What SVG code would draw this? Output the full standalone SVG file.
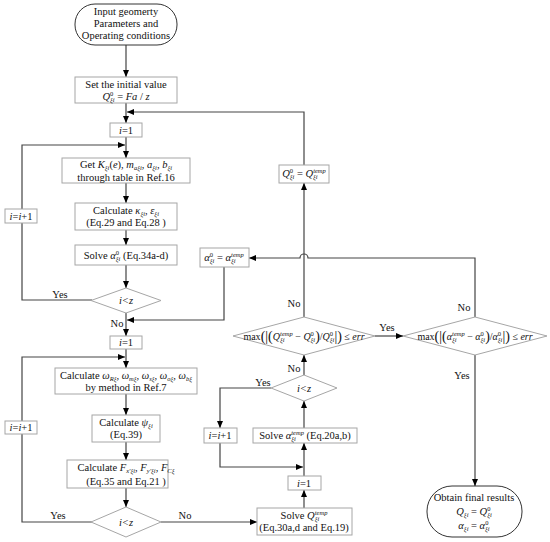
<svg xmlns="http://www.w3.org/2000/svg" width="550" height="542" viewBox="0 0 550 542">
<style>
text{font-family:"Liberation Serif","Times New Roman",serif;font-size:10.5px;fill:#111;text-anchor:middle}
.i{font-style:italic}
.s{font-size:6.5px;font-style:italic}
.su{font-size:6.5px}
.big{font-size:14px}
.box{fill:#fff;stroke:#a6a6a6;stroke-width:1}
.dia{fill:#fff;stroke:#a6a6a6;stroke-width:1}
.term{fill:#fff;stroke:#333;stroke-width:1}
.c{fill:none;stroke:#444;stroke-width:1.2}
.f10{font-size:10px}
</style>
<defs>
<marker id="ah" markerWidth="7" markerHeight="6" refX="7" refY="3" orient="auto" markerUnits="userSpaceOnUse">
<path d="M0,0 L7,3 L0,6 z" fill="#000"/>
</marker>
</defs>

<g id="connectors">
<path class="c" d="M126,45 V77" marker-end="url(#ah)"/>
<path class="c" d="M126,103 V123" marker-end="url(#ah)"/>
<path class="c" d="M304,165 V112 H127" marker-end="url(#ah)"/>
<path class="c" d="M126,137 V158" marker-end="url(#ah)"/>
<path class="c" d="M92,300 H22 V145 H125" marker-end="url(#ah)"/>
<path class="c" d="M126,183 V203" marker-end="url(#ah)"/>
<path class="c" d="M126,230 V245" marker-end="url(#ah)"/>
<path class="c" d="M126,265 V288" marker-end="url(#ah)"/>
<path class="c" d="M126,313 V336" marker-end="url(#ah)"/>
<path class="c" d="M224,267 V320 H127" marker-end="url(#ah)"/>
<path class="c" d="M126,349 V368" marker-end="url(#ah)"/>
<path class="c" d="M92,522 H22 V357 H125" marker-end="url(#ah)"/>
<path class="c" d="M126,394 V415" marker-end="url(#ah)"/>
<path class="c" d="M126,442 V460" marker-end="url(#ah)"/>
<path class="c" d="M126,488 V507" marker-end="url(#ah)"/>
<path class="c" d="M161,522 H257" marker-end="url(#ah)"/>
<path class="c" d="M304,508 V490" marker-end="url(#ah)"/>
<path class="c" d="M304,476 V443" marker-end="url(#ah)"/>
<path class="c" d="M220,443 V467 H303" marker-end="url(#ah)"/>
<path class="c" d="M271,388 H220 V428" marker-end="url(#ah)"/>
<path class="c" d="M304,428 V401" marker-end="url(#ah)"/>
<path class="c" d="M304,375 V355" marker-end="url(#ah)"/>
<path class="c" d="M304,317 V183" marker-end="url(#ah)"/>
<path class="c" d="M375,336 H403" marker-end="url(#ah)"/>
<path class="c" d="M475,317 V258 H308 A4,4 0 0 0 300,258 H249" marker-end="url(#ah)"/>
<path class="c" d="M475,355 V486" marker-end="url(#ah)"/>
<text x="60" y="298">Yes</text>
<text x="117" y="327">No</text>
<text x="58" y="519">Yes</text>
<text x="185" y="519">No</text>
<text x="263" y="386">Yes</text>
<text x="294" y="372">No</text>
<text x="294" y="307">No</text>
<text x="387" y="331">Yes</text>
<text x="464" y="311">No</text>
<text x="462" y="379">Yes</text>
</g>

<g id="start">
<rect class="term" x="75" y="4" width="102" height="41" rx="20" ry="20"/>
<text x="126" y="15">Input geomerty</text>
<text x="126" y="27">Parameters and</text>
<text x="126" y="39">Operating conditions</text>
</g>

<g id="init">
<rect class="box" x="75" y="77" width="102" height="26"/>
<text x="126" y="88">Set the initial value</text>
<text x="126" y="100"><tspan class="i">Q</tspan><tspan class="su" dy="-4">0</tspan><tspan class="s" dx="-3.3" dy="6">ξi</tspan><tspan dy="-2"> = </tspan><tspan class="i">Fa</tspan> / <tspan class="i">z</tspan></text>
</g>

<g id="i1a">
<rect class="box" x="110" y="123" width="32" height="14"/>
<text x="126" y="134"><tspan class="i">i</tspan>=1</text>
</g>

<g id="getK">
<rect class="box" x="62" y="158" width="128" height="25"/>
<text x="126" y="168">Get <tspan class="i">K</tspan><tspan class="s" dy="2">ξi</tspan><tspan dy="-2">(</tspan><tspan class="i">e</tspan>), <tspan class="i">m</tspan><tspan class="s" dy="2">aξi</tspan><tspan dy="-2">, </tspan><tspan class="i">a</tspan><tspan class="s" dy="2">ξi</tspan><tspan dy="-2">, </tspan><tspan class="i">b</tspan><tspan class="s" dy="2">ξi</tspan></text>
<text x="126" y="180.5">through table in Ref.16</text>
</g>

<g id="kappa">
<rect class="box" x="75" y="203" width="102" height="27"/>
<text x="126" y="213.5">Calculate <tspan class="i">κ</tspan><tspan class="s" dy="2">ξi</tspan><tspan dy="-2">, </tspan><tspan class="i">ε</tspan><tspan class="s" dy="2">ξi</tspan></text>
<text x="126" y="226">(Eq.29 and Eq.28 )</text>
</g>

<g id="solveA0">
<rect class="box" x="75" y="245" width="102" height="20"/>
<text x="126" y="258.5">Solve <tspan class="i">α</tspan><tspan class="su" dy="-4">0</tspan><tspan class="s" dx="-3.3" dy="6">ξi</tspan><tspan dy="-2">  (Eq.34a-d)</tspan></text>
</g>

<g id="inc1">
<rect class="box" x="5" y="209" width="32" height="14"/>
<text x="21" y="220"><tspan class="i">i</tspan>=<tspan class="i">i</tspan>+1</text>
</g>

<g id="dec1">
<polygon class="dia" points="91,300.5 126,288 161,300.5 126,313"/>
<text x="126" y="304" class="i">i&lt;z</text>
</g>

<g id="i1b">
<rect class="box" x="110" y="336" width="32" height="13"/>
<text x="126" y="346"><tspan class="i">i</tspan>=1</text>
</g>

<g id="omega">
<rect class="box" x="55" y="368" width="142" height="26"/>
<text x="126" y="378.5">Calculate <tspan class="i">ω</tspan><tspan class="s" dy="2">Rξ</tspan><tspan dy="-2">, </tspan><tspan class="i">ω</tspan><tspan class="s" dy="2">mξ</tspan><tspan dy="-2">, </tspan><tspan class="i">ω</tspan><tspan class="s" dy="2">sξ</tspan><tspan dy="-2">, </tspan><tspan class="i">ω</tspan><tspan class="s" dy="2">oξ</tspan><tspan dy="-2">, </tspan><tspan class="i">ω</tspan><tspan class="s" dy="2">bξ</tspan></text>
<text x="126" y="391">by method in Ref.7</text>
</g>

<g id="psi">
<rect class="box" x="92" y="415" width="68" height="27"/>
<text x="126" y="425.5">Calculate  <tspan class="i">ψ</tspan><tspan class="s" dy="2">ξi</tspan></text>
<text x="126" y="438">(Eq.39)</text>
</g>

<g id="inc2">
<rect class="box" x="5" y="421" width="32" height="13"/>
<text x="21" y="431"><tspan class="i">i</tspan>=<tspan class="i">i</tspan>+1</text>
</g>

<g id="force">
<rect class="box" x="67" y="460" width="101" height="28"/>
<text x="126" y="471">Calculate  <tspan class="i">F</tspan><tspan class="s" dy="2">x'ξi</tspan><tspan dy="-2">, </tspan><tspan class="i">F</tspan><tspan class="s" dy="2">y'ξi</tspan><tspan dy="-2">, </tspan><tspan class="i">F</tspan><tspan class="s" dy="2">Cξ</tspan></text>
<text x="126" y="484.5">(Eq.35 and Eq.21 )</text>
</g>

<g id="dec2">
<polygon class="dia" points="91,522 126,507 161,522 126,537"/>
<text x="126" y="526" class="i">i&lt;z</text>
</g>

<g id="solveQ">
<rect class="box" x="257" y="508" width="95" height="27"/>
<text x="304" y="519">Solve  <tspan class="i">Q</tspan><tspan class="s" dy="2">ξi</tspan><tspan class="s" dx="-4.5" dy="-6">temp</tspan></text>
<text x="304" y="531">(Eq.30a,d and Eq.19)</text>
</g>

<g id="i1c">
<rect class="box" x="288" y="476" width="33" height="14"/>
<text x="304" y="487"><tspan class="i">i</tspan>=1</text>
</g>

<g id="solveAt">
<rect class="box" x="253" y="428" width="104" height="15"/>
<text x="305" y="439">Solve <tspan class="i">α</tspan><tspan class="s" dy="2">ξi</tspan><tspan class="s" dx="-4.5" dy="-6">temp</tspan><tspan dy="4"> (Eq.20a,b)</tspan></text>
</g>

<g id="inc3">
<rect class="box" x="204" y="428" width="33" height="15"/>
<text x="220" y="439"><tspan class="i">i</tspan>=<tspan class="i">i</tspan>+1</text>
</g>

<g id="dec3">
<polygon class="dia" points="271,388 304,375 337,388 304,401"/>
<text x="304" y="392" class="i">i&lt;z</text>
</g>

<g id="decQ">
<polygon class="dia" points="233,336 304,317 375,336 304,355"/>
<text x="304" y="340" class="f10">max<tspan class="big" dy="1">(|(</tspan><tspan class="i" dy="-1">Q</tspan><tspan class="s" dy="2">ξi</tspan><tspan class="s" dx="-4.5" dy="-6">temp</tspan><tspan dy="4"> − </tspan><tspan class="i">Q</tspan><tspan class="su" dy="-4">0</tspan><tspan class="s" dx="-3.3" dy="6">ξi</tspan><tspan class="big" dy="-1">)</tspan><tspan dy="-1">/</tspan><tspan class="i">Q</tspan><tspan class="su" dy="-4">0</tspan><tspan class="s" dx="-3.3" dy="6">ξi</tspan><tspan class="big" dy="-1">|)</tspan><tspan dy="-1"> ≤ </tspan><tspan class="i">err</tspan></text>
</g>

<g id="decA">
<polygon class="dia" points="403,336 475,317 547,336 475,355"/>
<text x="475" y="340" class="f10">max<tspan class="big" dy="1">(|(</tspan><tspan class="i" dy="-1">α</tspan><tspan class="s" dy="2">ξi</tspan><tspan class="s" dx="-4.5" dy="-6">temp</tspan><tspan dy="4"> − </tspan><tspan class="i">α</tspan><tspan class="su" dy="-4">0</tspan><tspan class="s" dx="-3.3" dy="6">ξi</tspan><tspan class="big" dy="-1">)</tspan><tspan dy="-1">/</tspan><tspan class="i">α</tspan><tspan class="su" dy="-4">0</tspan><tspan class="s" dx="-3.3" dy="6">ξi</tspan><tspan class="big" dy="-1">|)</tspan><tspan dy="-1"> ≤ </tspan><tspan class="i">err</tspan></text>
</g>

<g id="setA">
<rect class="box" x="200" y="248" width="49" height="19"/>
<text x="224" y="261"><tspan class="i">α</tspan><tspan class="su" dy="-4">0</tspan><tspan class="s" dx="-3.3" dy="6">ξi</tspan><tspan dy="-2"> = </tspan><tspan class="i">α</tspan><tspan class="s" dy="2">ξi</tspan><tspan class="s" dx="-4.5" dy="-6">temp</tspan></text>
</g>

<g id="setQ">
<rect class="box" x="279" y="165" width="50" height="18"/>
<text x="304" y="177"><tspan class="i">Q</tspan><tspan class="su" dy="-4">0</tspan><tspan class="s" dx="-3.3" dy="6">ξi</tspan><tspan dy="-2"> = </tspan><tspan class="i">Q</tspan><tspan class="s" dy="2">ξi</tspan><tspan class="s" dx="-4.5" dy="-6">temp</tspan></text>
</g>

<g id="final">
<rect class="term" x="427" y="486" width="95" height="51" rx="25" ry="25"/>
<text x="474" y="501">Obtain final results</text>
<text x="474" y="515"><tspan class="i">Q</tspan><tspan class="s" dy="2">ξi</tspan><tspan dy="-2"> = </tspan><tspan class="i">Q</tspan><tspan class="su" dy="-4">0</tspan><tspan class="s" dx="-3.3" dy="6">ξi</tspan></text>
<text x="474" y="529"><tspan class="i">α</tspan><tspan class="s" dy="2">ξi</tspan><tspan dy="-2"> = </tspan><tspan class="i">α</tspan><tspan class="su" dy="-4">0</tspan><tspan class="s" dx="-3.3" dy="6">ξi</tspan></text>
</g>
</svg>
